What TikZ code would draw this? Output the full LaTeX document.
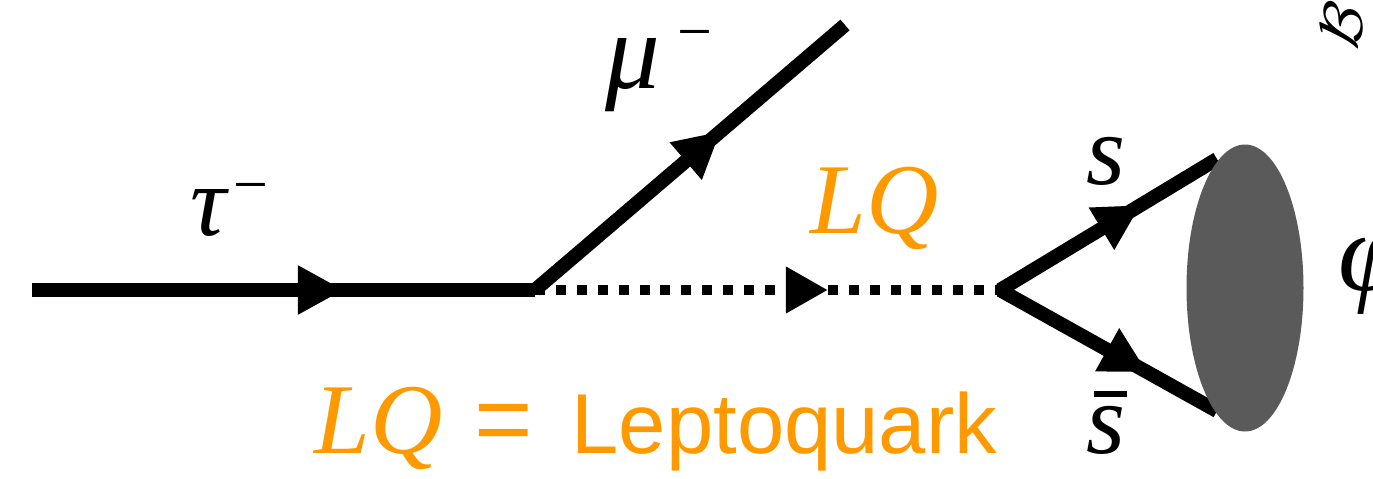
\documentclass[tikz,border=0pt]{standalone}
\usepackage{amsmath,amssymb}
\usepackage{fontspec}
\newfontfamily\lqsans{Liberation Sans}
\newfontfamily\lqserif{Liberation Serif}
\usepackage{xcolor}
\usetikzlibrary{arrows.meta,decorations.markings}
\definecolor{lqorange}{RGB}{255,153,0}
\definecolor{blobgray}{RGB}{90,90,90}
\tikzset{
fermion/.style={line width=4pt,postaction={decorate},
  decoration={markings,mark=at position #1 with {\arrow{Triangle[length=4.6mm,width=4.6mm]}}}},
lqline/.style={line width=2.85pt,dash pattern=on 2.85pt off 3.1pt,postaction={decorate,solid},
  decoration={markings,mark=at position #1 with {\arrow{Triangle[length=4.2mm,width=4.4mm]}}}},
lbl/.style={inner sep=0pt,anchor=base west,font=\lqserif\itshape\fontsize{28.5}{30}\selectfont},
}
\newcommand{\supminus}[1]{\raisebox{#1}{\fontsize{17.6}{18}\selectfont\upshape −}}

\begin{document}
\begin{tikzpicture}[>=Stealth]
\useasboundingbox (0,0) rectangle (13.73,4.78);
\clip (0,0) rectangle (13.73,4.78);
\coordinate (tauin) at (0.32,1.88);
\coordinate (v1) at (5.35,1.88);
\coordinate (muout) at (8.45,4.53);
\coordinate (v2) at (10.00,1.88);
\coordinate (sout) at (12.17,3.19);
\coordinate (sbout) at (12.17,0.67);
\draw[fermion=0.62] (tauin)--(v1);
\draw[fermion=0.6] (v1)--(muout);
\draw[lqline=0.63] (v1)--(v2);
\draw[fermion=0.65] (v2)--(sout);
\draw[fermion=0.68] (v2)--(sbout);
\fill[blobgray] (12.45,1.90) ellipse [x radius=0.585,y radius=1.435];
\node[lbl] (taulbl) at (1.90,2.43) {τ\hspace{2pt}\supminus{8.3pt}};
\node[lbl,font=\lqserif\itshape\fontsize{31}{32}\selectfont] (mulbl) at (6.05,3.90) {μ\hspace{5pt}\supminus{10pt}};
\node[lbl,text=lqorange] (lqlbl) at (8.10,2.45) {LQ};
\node[lbl] (slbl) at (10.86,2.94) {s};
\node[lbl] (sblbl) at (10.86,0.25) {\rlap{\hspace{2.2pt}\raisebox{15.9pt}{\rule{9.4pt}{1.7pt}}}s};
\node[lbl,font=\lqserif\itshape\fontsize{32}{34}\selectfont] (philbl) at (13.38,1.88) {φ};
\node[inner sep=0pt,rotate=74] (blbl) at (13.42,4.53) {\fontsize{18}{20}\selectfont$\mathcal{B}$};
\node[lbl,text=lqorange] (legend) at (3.14,0.25) {LQ\hspace{9pt}{\lqsans\upshape =}\hspace{11pt}{\lqsans\upshape\fontsize{24.2}{26}\selectfont Leptoquark}};
\end{tikzpicture}
\end{document}
